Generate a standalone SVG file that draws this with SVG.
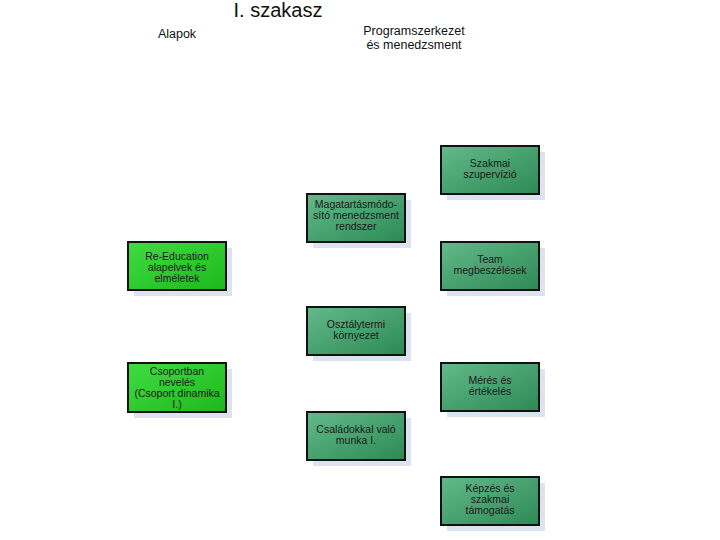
<svg xmlns="http://www.w3.org/2000/svg" width="720" height="540" viewBox="0 0 720 540">
<defs>
<linearGradient id="gSea" x1="0" y1="0" x2="1" y2="1">
<stop offset="0" stop-color="#63b98a"/>
<stop offset="1" stop-color="#2c8a55"/>
</linearGradient>
<linearGradient id="gLime" x1="0" y1="0" x2="1" y2="1">
<stop offset="0" stop-color="#40dc40"/>
<stop offset="1" stop-color="#1cb81c"/>
</linearGradient>
</defs>
<style>
.sh{fill:#dde3ee;}
.bx{stroke:#111;stroke-width:2;}
.sea{fill:url(#gSea);}
.lime{fill:url(#gLime);}
.t{font-family:"Liberation Sans",Arial,sans-serif;font-size:10.5px;fill:#1a1a1a;text-anchor:middle;}
.h{font-family:"Liberation Sans",Arial,sans-serif;font-size:12.5px;fill:#111;text-anchor:middle;}
</style>
<rect width="720" height="540" fill="#fff"/>
<text x="278" y="17" font-family="Liberation Sans,Arial,sans-serif" font-size="20" fill="#111" text-anchor="middle">I. szakasz</text>
<text class="h" x="177" y="38">Alapok</text>
<text class="h" x="414" y="35">Programszerkezet</text>
<text class="h" x="414" y="49">és menedzsment</text>
<g id="connectors"></g>
<g id="n1"><rect class="sh" x="134" y="248" width="98" height="48"/><rect class="bx lime" x="128" y="242" width="98" height="48"/><text class="t" x="177" y="260">Re-Education</text><text class="t" x="177" y="271">alapelvek és</text><text class="t" x="177" y="282">elméletek</text></g>
<g id="n2"><rect class="sh" x="134" y="369" width="98" height="49"/><rect class="bx lime" x="128" y="363" width="98" height="49"/><text class="t" x="177" y="375">Csoportban</text><text class="t" x="177" y="386">nevelés</text><text class="t" x="177" y="397">(Csoport dinamika</text><text class="t" x="177" y="408">I.)</text></g>
<g id="n3"><rect class="sh" x="313" y="200" width="98" height="48"/><rect class="bx sea" x="307" y="194" width="98" height="48"/><text class="t" x="356" y="208">Magatartásmódo-</text><text class="t" x="356" y="219">sító menedzsment</text><text class="t" x="356" y="230">rendszer</text></g>
<g id="n4"><rect class="sh" x="313" y="313" width="98" height="48"/><rect class="bx sea" x="307" y="307" width="98" height="48"/><text class="t" x="356" y="328">Osztálytermi</text><text class="t" x="356" y="339">környezet</text></g>
<g id="n5"><rect class="sh" x="313" y="418" width="98" height="48"/><rect class="bx sea" x="307" y="412" width="98" height="48"/><text class="t" x="356" y="433">Családokkal való</text><text class="t" x="356" y="444">munka I.</text></g>
<g id="n6"><rect class="sh" x="447" y="152" width="98" height="48"/><rect class="bx sea" x="441" y="146" width="98" height="48"/><text class="t" x="490" y="167">Szakmai</text><text class="t" x="490" y="178">szupervízió</text></g>
<g id="n7"><rect class="sh" x="447" y="248" width="98" height="48"/><rect class="bx sea" x="441" y="242" width="98" height="48"/><text class="t" x="490" y="263">Team</text><text class="t" x="490" y="274">megbeszélések</text></g>
<g id="n8"><rect class="sh" x="447" y="369" width="98" height="48"/><rect class="bx sea" x="441" y="363" width="98" height="48"/><text class="t" x="490" y="384">Mérés és</text><text class="t" x="490" y="395">értékelés</text></g>
<g id="n9"><rect class="sh" x="447" y="483" width="98" height="48"/><rect class="bx sea" x="441" y="477" width="98" height="48"/><text class="t" x="490" y="492">Képzés és</text><text class="t" x="490" y="503">szakmai</text><text class="t" x="490" y="514">támogatás</text></g>
</svg>
